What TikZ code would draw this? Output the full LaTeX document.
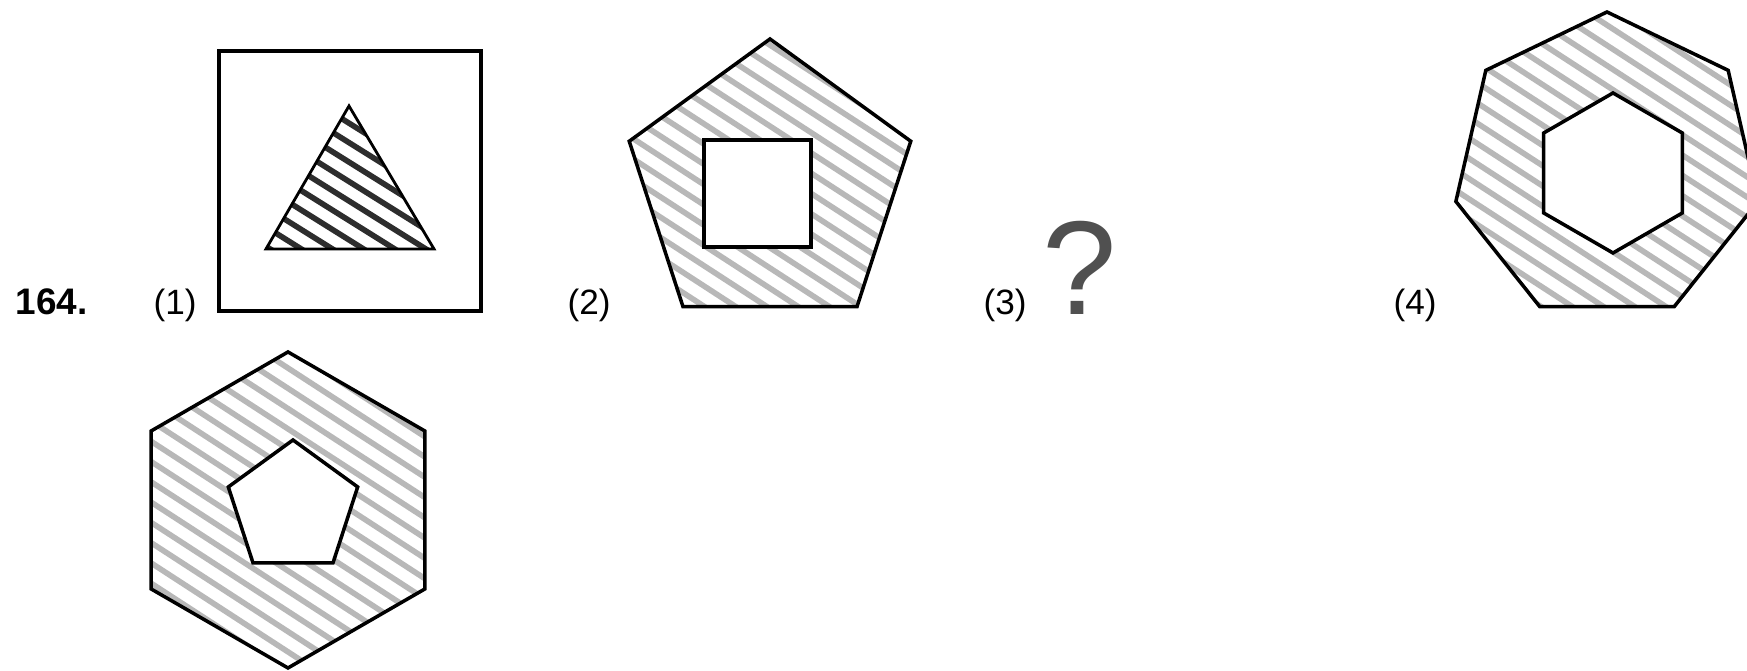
\documentclass[tikz,border=0pt]{standalone}
\usepackage{fontspec}
\setmainfont{Liberation Sans}
\usetikzlibrary{math}

\definecolor{stripegrey}{RGB}{184,184,184}
\definecolor{stripedark}{RGB}{45,45,45}
\definecolor{qgrey}{RGB}{80,80,80}

\tikzset{
  outline/.style={line width=1pt, line join=miter},
  greystripe/.style={line width=1.6pt, color=stripegrey},
  darkstripe/.style={line width=1.6pt, color=stripedark},
  lbl/.style={anchor=base west, inner sep=0pt, font=\fontsize{10}{12}\selectfont},
  numlbl/.style={lbl, font=\bfseries\fontsize{10.5}{12}\selectfont},
}

\begin{document}
\begin{tikzpicture}[x=0.01cm, y=0.01cm]
\tikzmath{
\gap=17;
\dgap=16.5;
}
\useasboundingbox (0,0) rectangle (1747,671);

\coordinate (C1) at (349,470);
\coordinate (C2) at (770,484);
\coordinate (S2) at (757.5,477.5);
\coordinate (C4) at (1607,504);
\coordinate (H4) at (1613,498);
\coordinate (C5) at (288,161);
\coordinate (P5) at (293,163);

 %labels:
 \node[numlbl] (qnum) at (15,356) {164.};
 \node[lbl] (opt1) at (153,356) {(1)};
 \node[lbl] (opt2) at (567,356) {(2)};
 \node[lbl] (opt3) at (983,356) {(3)};
 \node[lbl] (opt4) at (1393,356) {(4)};
 \node[anchor=base west, inner sep=0pt, text=qgrey,
       font=\fontsize{38}{40}\selectfont] (qmark) at (1042,356) {?};

 %(1) square with striped triangle
 \draw[outline] (219,360) rectangle (481,620);
 \begin{scope}
 \clip (349,565) -- (266,422) -- (434,422) -- cycle;
 \foreach \k in {-8,...,8}
   \draw[darkstripe] (C1) ++(58:\k*\dgap) ++(148:200) -- ++(-32:400);
 \end{scope}
 \draw[line width=0.8pt] (349,565) -- (266,422) -- (434,422) -- cycle;

 %(2) pentagon with square hole
 \begin{scope}[shift={(C2)}]
 \clip (90:148) -- (162:148) -- (234:148) -- (306:148) -- (18:148) -- cycle;
 \foreach \k in {-12,...,12}
   \draw[greystripe] (0,0) ++(57:\k*\gap) ++(147:250) -- ++(-33:500);
 \end{scope}
 \draw[outline, shift={(C2)}] (90:148) -- (162:148) -- (234:148) -- (306:148) -- (18:148) -- cycle;
 \draw[outline, fill=white, shift={(S2)}] (-53.5,-53.5) rectangle (53.5,53.5);

 %(4) heptagon with hexagon hole
 \begin{scope}[shift={(C4)}]
 \clip (90:155) \foreach \i in {1,...,6} {-- (90+\i*360/7:155)} -- cycle;
 \foreach \k in {-12,...,12}
   \draw[greystripe] (0,0) ++(57:\k*\gap) ++(147:250) -- ++(-33:500);
 \end{scope}
 \draw[outline, shift={(C4)}] (90:155) \foreach \i in {1,...,6} {-- (90+\i*360/7:155)} -- cycle;
 \draw[outline, fill=white, shift={(H4)}] (90:80) \foreach \i in {1,...,5} {-- (90+\i*60:80)} -- cycle;

 %answer: hexagon with pentagon hole
 \begin{scope}[shift={(C5)}]
 \clip (90:158) -- (150:158) -- (210:158) -- (270:158) -- (330:158) -- (30:158) -- cycle;
 \foreach \k in {-13,...,13}
   \draw[greystripe] (0,0) ++(57:\k*\gap) ++(147:250) -- ++(-33:500);
 \end{scope}
 \draw[outline, shift={(C5)}] (90:158) -- (150:158) -- (210:158) -- (270:158) -- (330:158) -- (30:158) -- cycle;
 \draw[outline, fill=white, shift={(P5)}] (90:68) -- (162:68) -- (234:68) -- (306:68) -- (18:68) -- cycle;
\end{tikzpicture}
\end{document}
